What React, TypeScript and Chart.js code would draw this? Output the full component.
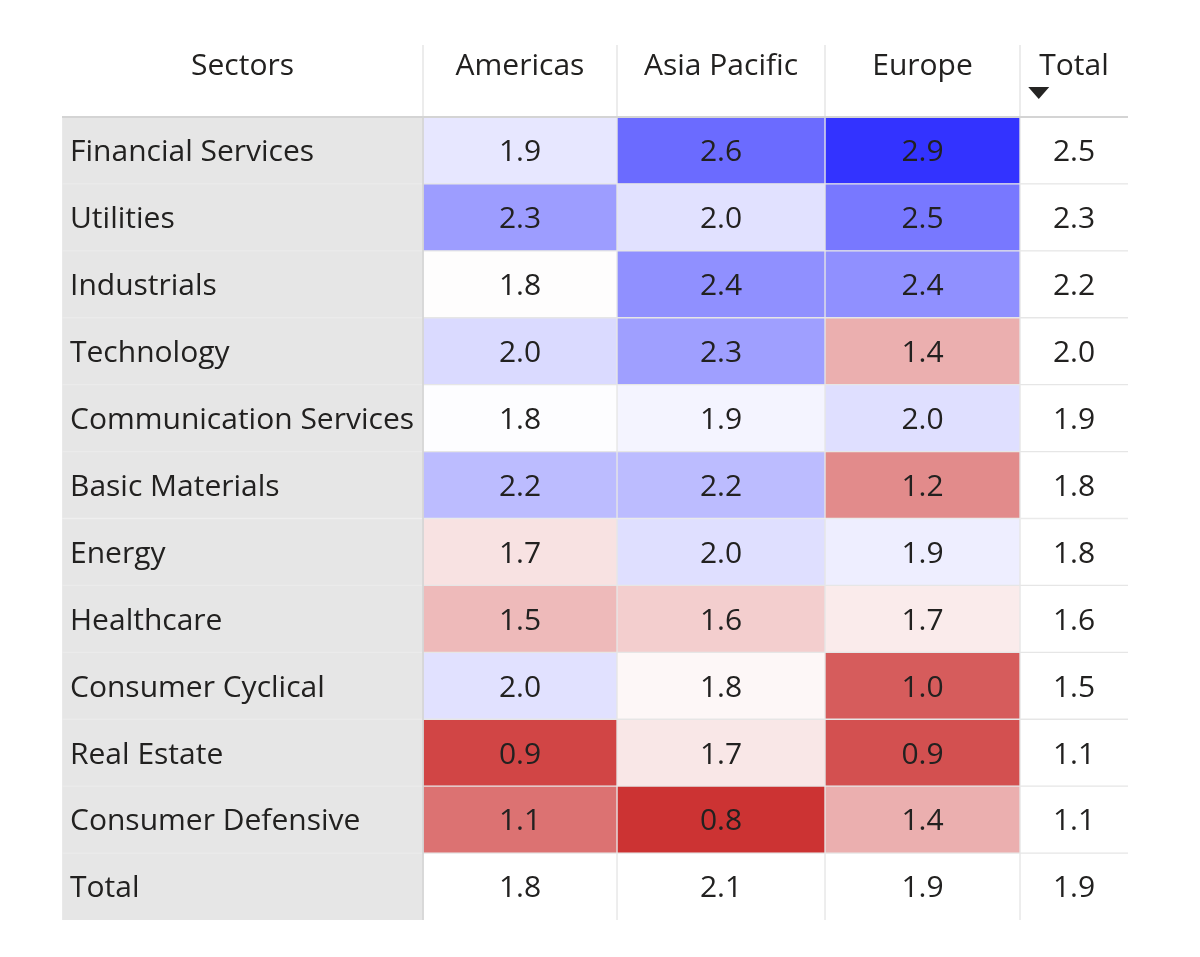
import React, { useEffect, useRef } from "react";
import { Chart, registerables } from "chart.js";

Chart.register(...registerables);

// ---------- data ----------
const sectors = [
  "Financial Services",
  "Utilities",
  "Industrials",
  "Technology",
  "Communication Services",
  "Basic Materials",
  "Energy",
  "Healthcare",
  "Consumer Cyclical",
  "Real Estate",
  "Consumer Defensive",
];
const totalLabel = "Total";
const regions = ["Americas", "Asia Pacific", "Europe"];
const sectorHeader = "Sectors";

const americas = [1.93, 2.33, 1.79, 2.0, 1.81, 2.16, 1.66, 1.46, 1.96, 0.89, 1.11];
const asiaPacific = [2.6, 1.96, 2.4, 2.32, 1.86, 2.16, 1.97, 1.56, 1.76, 1.68, 0.8];
const europe = [2.9, 2.53, 2.4, 1.41, 1.97, 1.23, 1.89, 1.7, 1.0, 0.94, 1.41];
const sectorTotals = [2.5, 2.3, 2.2, 2.0, 1.9, 1.8, 1.8, 1.6, 1.5, 1.1, 1.1];
const regionTotals = [1.8, 2.1, 1.9];
const grandTotal = 1.9;

// ---------- layout / style ----------
const COL_WIDTHS = [361, 194, 208, 195, 108];
const FONT = '"Open Sans", "Noto Sans", sans-serif';
const FONT_SIZE = 30;
const TEXT_COLOR = "#222120";
const COLOR_MID = 1.8;
const LOW_RGB = [204, 51, 51];
const HIGH_RGB = [51, 51, 255];

const regionValues = [americas, asiaPacific, europe];
const allValues = regionValues.flat();
const vMin = Math.min(...allValues);
const vMax = Math.max(...allValues);

function heatColor(v: number): string {
  let target = HIGH_RGB;
  let f = 0;
  if (v >= COLOR_MID) {
    f = (v - COLOR_MID) / (vMax - COLOR_MID);
    target = HIGH_RGB;
  } else {
    f = (COLOR_MID - v) / (COLOR_MID - vMin);
    target = LOW_RGB;
  }
  f = Math.max(0, Math.min(1, f));
  const c = target.map((t) => Math.round(255 + (t - 255) * f));
  return `rgb(${c[0]},${c[1]},${c[2]})`;
}

const rowLabels = [...sectors, totalLabel];
const headers = [sectorHeader, ...regions, "Total"];

function cellText(col: number, row: number): string {
  if (col === 0) return rowLabels[row];
  if (col <= regions.length) {
    const vals = regionValues[col - 1];
    return row < sectors.length ? vals[row].toFixed(1) : regionTotals[col - 1].toFixed(1);
  }
  return row < sectors.length ? sectorTotals[row].toFixed(1) : grandTotal.toFixed(1);
}

const tablePlugin = {
  id: "tableText",
  afterDatasetsDraw(chart: any) {
    const ctx: CanvasRenderingContext2D = chart.ctx;
    const area = chart.chartArea;
    ctx.save();
    ctx.font = `${FONT_SIZE}px ${FONT}`;
    ctx.fillStyle = TEXT_COLOR;
    ctx.textBaseline = "alphabetic";
    const capOffset = FONT_SIZE * 0.36;

    const colBounds: { left: number; right: number }[] = [];
    chart.data.datasets.forEach((_ds: any, di: number) => {
      const meta = chart.getDatasetMeta(di);
      meta.data.forEach((el: any, ri: number) => {
        const p = el.getProps(["x", "y", "base"], true);
        const left = Math.min(p.x, p.base);
        const right = Math.max(p.x, p.base);
        if (ri === 0) colBounds[di] = { left, right };
        const txt = cellText(di, ri);
        ctx.fillStyle = TEXT_COLOR;
        if (di === 0) {
          ctx.textAlign = "left";
          ctx.fillText(txt, left + 8, p.y + capOffset, right - left - 12);
        } else {
          ctx.textAlign = "center";
          ctx.fillText(txt, (left + right) / 2, p.y + capOffset);
        }
      });
    });

    // sector column right edge
    if (colBounds[0]) {
      ctx.strokeStyle = "#d2d2d2";
      ctx.lineWidth = 1.5;
      ctx.beginPath();
      ctx.moveTo(colBounds[0].right, area.top);
      ctx.lineTo(colBounds[0].right, area.bottom);
      ctx.stroke();
    }

    // header
    const headTop = area.top - 72;
    const headTextY = area.top - 53 + capOffset;
    headers.forEach((h, i) => {
      const b = colBounds[i];
      if (!b) return;
      ctx.fillStyle = TEXT_COLOR;
      ctx.textAlign = "center";
      const cx = (b.left + b.right) / 2;
      ctx.fillText(h, cx, headTextY);
      if (i < headers.length - 1) {
        ctx.strokeStyle = "#e6e6e6";
        ctx.lineWidth = 1.5;
        ctx.beginPath();
        ctx.moveTo(b.right, headTop);
        ctx.lineTo(b.right, area.top);
        ctx.stroke();
      }
      if (i === headers.length - 1) {
        const w = ctx.measureText(h).width;
        const tl = cx - w / 2;
        ctx.beginPath();
        ctx.moveTo(tl - 11, area.top - 30);
        ctx.lineTo(tl + 10, area.top - 30);
        ctx.lineTo(tl - 0.5, area.top - 18);
        ctx.closePath();
        ctx.fillStyle = "#252423";
        ctx.fill();
      }
    });

    // header bottom line
    ctx.strokeStyle = "#d4d4d4";
    ctx.lineWidth = 2;
    ctx.beginPath();
    ctx.moveTo(area.left, area.top);
    ctx.lineTo(area.right, area.top);
    ctx.stroke();
    ctx.restore();
  },
};

export default function App() {
  const canvasRef = useRef<HTMLCanvasElement | null>(null);

  useEffect(() => {
    if (!canvasRef.current) return;
    const totalWidth = COL_WIDTHS.reduce((a, b) => a + b, 0);
    const lastRow = rowLabels.length - 1;
    const lastCol = headers.length - 1;
    const datasets = headers.map((h, col) => {
      const bg = rowLabels.map((_r, row) => {
        if (col === 0) return "#e6e6e6";
        if (col <= regions.length && row < sectors.length) return heatColor(regionValues[col - 1][row]);
        return "#ffffff";
      });
      return {
        label: h,
        data: rowLabels.map(() => COL_WIDTHS[col]),
        backgroundColor: bg,
        borderColor: col === 0 ? "#ebebeb" : "#e6e6e6",
        borderWidth: (c: any) => ({
          top: 1,
          left: 1,
          right: col === lastCol ? 0 : 1,
          bottom: c.dataIndex === lastRow ? 0 : 1,
        }),
        borderSkipped: false as const,
        barPercentage: 1,
        categoryPercentage: 1,
      };
    });

    const chart = new Chart(canvasRef.current, {
      type: "bar",
      data: { labels: rowLabels, datasets },
      plugins: [tablePlugin],
      options: {
        indexAxis: "y",
        animation: false,
        responsive: true,
        maintainAspectRatio: false,
        layout: { padding: { left: 62, right: 72, top: 117, bottom: 37 } },
        scales: {
          x: { stacked: true, display: false, min: 0, max: totalWidth },
          y: { stacked: true, display: false },
        },
        plugins: {
          legend: { display: false },
          tooltip: { enabled: false },
        },
      },
    } as any);
    return () => chart.destroy();
  }, []);

  return (
    <div style={{ position: "fixed", left: 0, top: 0, width: 1200, height: 957, background: "#ffffff" }}>
      <canvas ref={canvasRef} />
    </div>
  );
}
